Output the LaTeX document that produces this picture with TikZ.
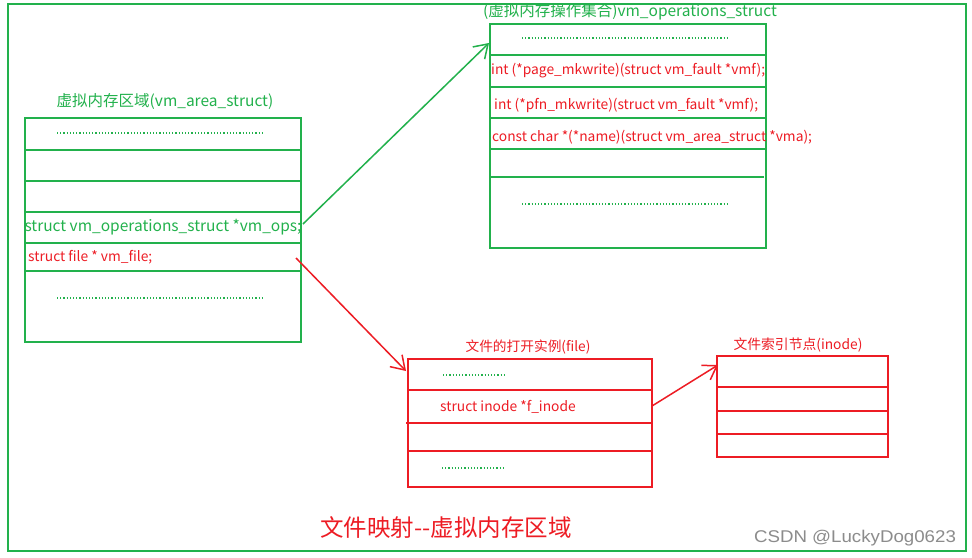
\documentclass[tikz,border=0pt]{standalone}
\usepackage{fontspec}
\setmainfont{Noto Sans CJK SC}
\newfontfamily\wmfont{Liberation Sans}
\usetikzlibrary{arrows.meta}
\definecolor{pgreen}{HTML}{22B14C}
\definecolor{pred}{HTML}{ED1C24}
\begin{document}
\begin{tikzpicture}[x=1pt,y=-1pt,
  gbox/.style={draw=pgreen,line width=2pt},
  rbox/.style={draw=pred,line width=2pt},
  gline/.style={draw=pgreen,line width=2pt},
  rline/.style={draw=pred,line width=2pt},
  dots/.style={draw=pgreen,line width=1.2pt,dash pattern=on 1.2pt off 2pt},
  gtxt/.style={text=pgreen,inner sep=0pt},
  rtxt/.style={text=pred,inner sep=0pt},
  garrow/.style={draw=pgreen,line width=1.5pt,-{Straight Barb[length=13pt,width=17pt,line width=1.5pt]}},
  rarrow/.style={draw=pred,line width=1.5pt,-{Straight Barb[length=13pt,width=17pt,line width=1.5pt]}}]
\useasboundingbox (0,0) rectangle (972,557);
\fill[white] (0,0) rectangle (972,557);
% outer frame
\draw[gline] (8,4) rectangle (966,551);

% vm_area_struct
\node[gtxt,font=\fontsize{15.5}{17}\selectfont] (t1) at (165,102) {虚拟内存区域(vm\_area\_struct)};
\node[gbox,minimum width=276pt,minimum height=224pt,inner sep=0pt] (vma) at (163,230) {};
\draw[gline] (25,150) -- (301,150);
\draw[gline] (25,181) -- (301,181);
\draw[gline] (25,212) -- (301,212);
\draw[gline] (25,243) -- (301,243);
\draw[gline] (25,271) -- (301,271);
\draw[dots] (57,133) -- (263,133);
\node[gtxt,font=\fontsize{15.5}{17}\selectfont] (ops) at (163,227) {struct vm\_operations\_struct *vm\_ops;};
\node[rtxt,font=\fontsize{13.8}{15}\selectfont,anchor=west] (vmf) at (28,257) {struct file * vm\_file;};
\draw[dots] (57,298) -- (263,298);

% vm_operations_struct
\node[gtxt,font=\fontsize{15.5}{17}\selectfont] (t2) at (630,12) {(虚拟内存操作集合)vm\_operations\_struct};
\node[gbox,minimum width=276pt,minimum height=224pt,inner sep=0pt] (vmo) at (627.5,136) {};
\draw[gline] (489,55) -- (766,55);
\draw[gline] (489,87) -- (766,87);
\draw[gline] (489,118) -- (766,118);
\draw[gline] (489,149) -- (766,149);
\draw[gline] (489,177) -- (764,177);
\draw[dots] (522,38) -- (727,38);
\node[rtxt,font=\fontsize{13.8}{15}\selectfont,anchor=west] (pm) at (491,71) {int (*page\_mkwrite)(struct vm\_fault *vmf);};
\node[rtxt,font=\fontsize{13.8}{15}\selectfont,anchor=west] (pf) at (494,105) {int (*pfn\_mkwrite)(struct vm\_fault *vmf);};
\node[rtxt,font=\fontsize{13.8}{15}\selectfont,anchor=west] (nm) at (492,137) {const char *(*name)(struct vm\_area\_struct *vma);};
\draw[dots] (522,204) -- (727,204);

% file
\node[rtxt,font=\fontsize{13.7}{15}\selectfont] (t3) at (528,347) {文件的打开实例(file)};
\node[rbox,minimum width=244pt,minimum height=128pt,inner sep=0pt] (file) at (530,423) {};
\draw[rline] (408,390) -- (652,390);
\draw[rline] (406,423) -- (652,423);
\draw[rline] (408,451) -- (652,451);
\draw[dots] (443,375) -- (505,375);
\node[rtxt,font=\fontsize{13.8}{15}\selectfont,anchor=west] (fi) at (440,407) {struct inode *f\_inode};
\draw[dots] (442,468) -- (503,468);

% inode
\node[rtxt,font=\fontsize{13.8}{15}\selectfont] (t4) at (798,345) {文件索引节点(inode)};
\node[rbox,minimum width=171pt,minimum height=101pt,inner sep=0pt] (inode) at (802.5,406.5) {};
\draw[rline] (717,387) -- (888,387);
\draw[rline] (716,411) -- (888,411);
\draw[rline] (717,434) -- (888,434);

% arrows
\coordinate (a1s) at (303,224);
\coordinate (a1e) at (489,43);
\draw[garrow] (a1s) -- (a1e);
\coordinate (a2s) at (296,258);
\coordinate (a2e) at (406,371);
\draw[rarrow] (a2s) -- (a2e);
\coordinate (a3s) at (652,406);
\coordinate (a3e) at (718,365);
\draw[rarrow] (a3s) -- (a3e);

% captions
\node[rtxt,font=\fontsize{23.5}{26}\selectfont] (cap) at (446,528) {文件映射{-}{-}虚拟内存区域};
\node[inner sep=0pt,text=black!45,font=\wmfont\fontsize{17}{19}\selectfont] (wm) at (855,538) {\scalebox{1.1}[1]{CSDN @LuckyDog0623}};
\end{tikzpicture}
\end{document}
